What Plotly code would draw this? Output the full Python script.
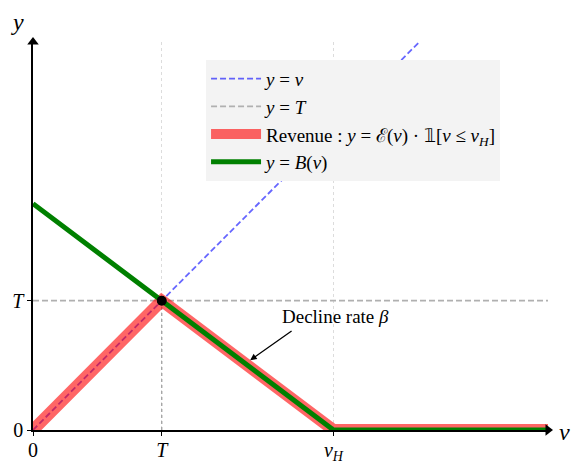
import plotly.graph_objects as go

# ---- data ----
T_val = 3.0
vH_val = 7.0
x_max = 12.0
y_max = 9.0
B0 = 5.25  # B(0)

line_v_x = [0, x_max]
line_v_y = [0, x_max]
line_T_x = [0, x_max]
line_T_y = [T_val, T_val]
rev_x = [0, T_val, vH_val, x_max]
rev_y = [0, T_val, 0, 0]
B_x = [0, T_val, vH_val, x_max]
B_y = [B0, T_val, 0, 0]

x_tickvals = [0, T_val, vH_val]
x_ticktext = ["0", "<i>T</i>", "<i>v</i><sub><i>H</i></sub>"]
y_tickvals = [0, T_val]
y_ticktext = ["0", "<i>T</i>"]

FONT = "Liberation Serif"

fig = go.Figure()

fig.add_trace(go.Scatter(x=line_v_x, y=line_v_y, mode="lines",
                         line=dict(color="rgba(0,0,255,0.6)", width=1.8, dash="6px,3px"),
                         name="<i>y</i> = <i>v</i>", legendgroup="a", legendrank=1))
fig.add_trace(go.Scatter(x=line_T_x, y=line_T_y, mode="lines",
                         line=dict(color="#b0b0b0", width=1.8, dash="6px,3px"),
                         name="<i>y</i> = <i>T</i>", legendgroup="b", legendrank=2))
fig.add_trace(go.Scatter(x=[T_val, T_val], y=[0, T_val], mode="lines",
                         line=dict(color="#a0a0a0", width=1.3, dash="dot"),
                         showlegend=False, hoverinfo="skip"))
fig.add_trace(go.Scatter(x=rev_x, y=rev_y, mode="lines",
                         line=dict(color="rgba(255,0,0,0.6)", width=12),
                         name="Revenue : <i>y</i> = ℰ(<i>v</i>) · 𝟙[<i>v</i> ≤ <i>v</i><sub><i>H</i></sub>]",
                         legendgroup="c", legendrank=3))
fig.add_trace(go.Scatter(x=B_x, y=B_y, mode="lines",
                         line=dict(color="#008000", width=5),
                         name="<i>y</i> = <i>B</i>(<i>v</i>)", legendgroup="d", legendrank=4))
fig.add_trace(go.Scatter(x=[T_val], y=[T_val], mode="markers",
                         marker=dict(color="black", size=10), cliponaxis=False,
                         showlegend=False))
# axis arrows
fig.add_trace(go.Scatter(x=[x_max], y=[0], mode="markers",
                         marker=dict(symbol="triangle-right", color="black", size=10),
                         cliponaxis=False, showlegend=False, hoverinfo="skip"))
fig.add_trace(go.Scatter(x=[0], y=[y_max], mode="markers",
                         marker=dict(symbol="triangle-up", color="black", size=10),
                         cliponaxis=False, showlegend=False, hoverinfo="skip"))

fig.add_annotation(x=5.75, y=2.64, text="Decline rate <i>β</i>", showarrow=False,
                   xanchor="left", yanchor="middle", font=dict(family=FONT, size=19, color="black"))
fig.add_annotation(x=5.06, y=1.62, ax=6.06, ay=2.32, axref="x", ayref="y", text="",
                   showarrow=True, arrowhead=2, arrowsize=1, arrowwidth=1.3, arrowcolor="black",
                   standoff=0)
fig.add_annotation(xref="paper", yref="paper", x=-0.031, y=1.052, text="<i>y</i>",
                   xanchor="center", yanchor="middle",
                   showarrow=False, font=dict(family=FONT, size=24, color="black"))
fig.add_annotation(xref="paper", yref="paper", x=1.033, y=-0.005, text="<i>v</i>",
                   xanchor="center", yanchor="middle",
                   showarrow=False, font=dict(family=FONT, size=24, color="black"))

# page body has an 8px default margin; size the figure to fit the window
fig.update_layout(
    width=573, height=460,
    margin=dict(l=25, r=33, t=34, b=38),
    paper_bgcolor="white", plot_bgcolor="white",
    font=dict(family=FONT, size=20, color="black"),
    legend=dict(x=0.336, y=0.954, xanchor="left", yanchor="top",
                bgcolor="#f3f3f3", borderwidth=0, font=dict(size=19),
                itemwidth=50, tracegroupgap=0),
    xaxis=dict(range=[0, x_max], tickvals=x_tickvals, ticktext=x_ticktext,
               showline=True, linecolor="black", linewidth=1.5,
               ticks="outside", ticklen=4, tickcolor="black", ticklabelstandoff=-3,
               showgrid=True, gridcolor="#dcdcdc", griddash="dot", gridwidth=1,
               zeroline=False, fixedrange=True, automargin=False),
    yaxis=dict(range=[0, y_max], tickvals=y_tickvals, ticktext=y_ticktext,
               showline=True, linecolor="black", linewidth=1.5,
               ticks="outside", ticklen=4, tickcolor="black",
               showgrid=False, zeroline=False, fixedrange=True, automargin=False),
)

fig.write_html("out.html")
